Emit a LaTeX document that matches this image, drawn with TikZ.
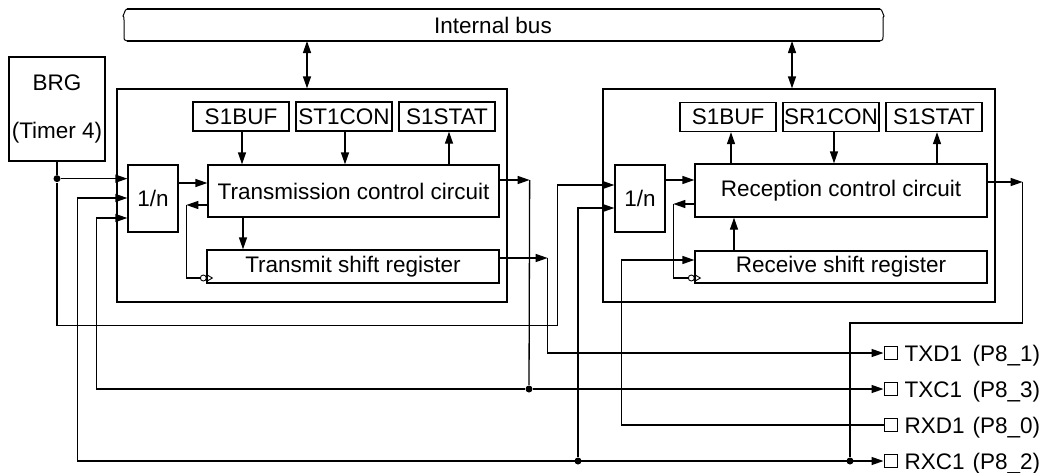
\documentclass[tikz,border=0pt]{standalone}
\usepackage{fontspec}
\setmainfont{Liberation Sans}
\usetikzlibrary{arrows.meta,calc}
\begin{document}
\begin{tikzpicture}[x=1pt,y=-1pt,
  line width=1.3pt,
  every node/.style={font=\fontsize{22.5}{26}\selectfont, text=black},
  box/.style={draw, line width=1.3pt, inner sep=0pt},
  arr/.style={-{Triangle[length=12pt,width=8pt]}},
  darr/.style={{Triangle[length=12pt,width=8pt]}-{Triangle[length=12pt,width=8pt]}},
  dot/.style={circle, fill=black, draw=none, inner sep=0pt, minimum size=7pt},
  pinsq/.style={draw, line width=1pt, minimum size=13pt, inner sep=0pt},
  lbl/.style={anchor=base west, inner sep=0pt},
]
\useasboundingbox (0,0) rectangle (1043,472);

% internal bus
\draw (127,9) -- (880,9);
\draw (127,41) -- (880,41);
\draw[line width=1pt] (127,9) .. controls (124,10) and (125,14) .. (123,16) .. controls (124,17) .. (124,20) -- (124,37) .. controls (124,40) .. (127,41);
\draw[line width=1pt] (880,9) .. controls (883,10) and (882,14) .. (884,16) .. controls (883,17) .. (883,20) -- (883,37) .. controls (883,40) .. (880,41);
\node (bus) at (493,25) {Internal bus};
\coordinate (busA) at (307,41);
\coordinate (busB) at (792,41);

% BRG
\node[box, minimum width=96pt, minimum height=104pt] (brg) at (57,109) {};
\node (brgA) at (57,83) {BRG};
\node (brgB) at (57,133) {(Timer 4)};

% transmit block
\node[box, minimum width=390pt, minimum height=213pt] (txbox) at (312,195.5) {};
\node[box, minimum width=50pt, minimum height=67pt] (tdiv) at (153,198.5) {1/n};
\node[box, minimum width=96pt, minimum height=29pt] (tbuf) at (241,116.5) {S1BUF};
\node[box, minimum width=96pt, minimum height=29pt] (tcon) at (344,116.5) {ST1CON};
\node[box, minimum width=96pt, minimum height=29pt] (tstat) at (447,116.5) {S1STAT};
\node[box, minimum width=291pt, minimum height=52pt] (tcc) at (353.5,191) {Transmission control circuit};
\node[box, minimum width=292pt, minimum height=33pt] (tsr) at (353,266.5) {Transmit shift register};

% receive block
\node[box, minimum width=392pt, minimum height=213pt] (rxbox) at (799,195.5) {};
\node[box, minimum width=50pt, minimum height=67pt] (rdiv) at (640,198.5) {1/n};
\node[box, minimum width=96pt, minimum height=29pt] (rbuf) at (728,117) {S1BUF};
\node[box, minimum width=96pt, minimum height=29pt] (rcon) at (831,117) {SR1CON};
\node[box, minimum width=96pt, minimum height=29pt] (rstat) at (934,117) {S1STAT};
\node[box, minimum width=292pt, minimum height=53pt] (rcc) at (841,190.5) {Reception control circuit};
\node[box, minimum width=292pt, minimum height=32pt] (rsr) at (841,267) {Receive shift register};

% pins
\node[pinsq] (ptxd) at (890.5,353) {};
\node[pinsq] (ptxc) at (890.5,389) {};
\node[pinsq] (prxd) at (890.5,425) {};
\node[pinsq] (prxc) at (890.5,461) {};
\node[lbl] (ltxd) at (904,361) {TXD1};
\node[lbl] (ltxc) at (904,397) {TXC1};
\node[lbl] (lrxd) at (904,433) {RXD1};
\node[lbl] (lrxc) at (904,469) {RXC1};
\node[lbl] (ntxd) at (972,361) {(P8\_1)};
\node[lbl] (ntxc) at (972,397) {(P8\_3)};
\node[lbl] (nrxd) at (972,433) {(P8\_0)};
\node[lbl] (nrxc) at (972,469) {(P8\_2)};

% dots
\node[dot] (dbrg) at ($(brg.south)+(0,17)$) {};
\node[dot] (dtxc) at (529,389) {};
\node[dot] (drxc1) at (578,461) {};
\node[dot] (drxc2) at (850,461) {};

% bus connections
\draw[darr] (busA) -- (busA |- txbox.north);
\draw[darr] (busB) -- (busB |- rxbox.north);

% transmit internal
\draw[arr] ([xshift=1pt]tbuf.south) -- ([xshift=1pt]tbuf.south |- tcc.north);
\draw[arr] ([xshift=1pt]tcon.south) -- ([xshift=1pt]tcon.south |- tcc.north);
\draw[arr] ([xshift=2pt]tstat.south |- tcc.north) -- ([xshift=2pt]tstat.south);
\draw[arr] ($(tdiv.east)+(0,-15.5)$) -- ($(tcc.west)+(0,-8)$);
\draw[arr] ($(tcc.west)+(0,14)$) -- ($(tcc.west)+(-21,14)$);
\coordinate (tck) at ($(tsr.west)+(0,11.5)$);
\draw ($(tcc.west)+(-21,14)$) |- ($(tck)+(-6,0)$);
\draw[line width=0.9pt] ($(tck)+(-3,0)$) circle (3);
\draw[line width=0.9pt] ($(tck)+(0,-3.5)$) -- ($(tck)+(6,0)$) -- ($(tck)+(0,3.5)$);
\draw[arr] ($(tcc.south)+(-110.5,0)$) -- ($(tsr.north)+(-110,0)$);

% transmit outputs
\coordinate (tco) at ($(tcc.east)+(30,-11)$);
\draw[arr] ($(tcc.east)+(0,-11)$) -- (tco);
\draw (tco) -- (dtxc);
\coordinate (tso) at ($(tsr.east)+(48,-8.5)$);
\draw[arr] ($(tsr.east)+(0,-8.5)$) -- (tso);
\draw[arr] (tso) |- (ptxd.west);
\draw[arr] (dtxc) -- (ptxc.west);
\draw[arr] (dtxc) -| ($(tdiv.west)+(-31,19.5)$) -- ($(tdiv.west)+(0,19.5)$);

% BRG clock
\draw (brg.south) -- (dbrg);
\draw[arr] (dbrg) -- (dbrg -| tdiv.west);
\draw[arr] (dbrg) -- ++(0,147) -| ($(rdiv.west)+(-57,-13.5)$) -- ($(rdiv.west)+(0,-13.5)$);

% RXC1 line
\draw[arr] ($(tdiv.west)+(-50,-0.5)$) |- (prxc.west);
\draw[arr] ($(tdiv.west)+(-50,-0.5)$) -- ($(tdiv.west)+(0,-0.5)$);
\draw[arr] (drxc1) |- ($(rdiv.west)+(0,9.5)$);

% receive internal
\draw[arr] ($(rdiv.east)+(0,-18.5)$) -- ($(rcc.west)+(0,-10.5)$);
\draw[arr] ($(rcc.west)+(0,13.5)$) -- ($(rcc.west)+(-21,13.5)$);
\coordinate (rck) at ($(rsr.west)+(0,11)$);
\draw ($(rcc.west)+(-21,13.5)$) |- ($(rck)+(-6,0)$);
\draw[line width=0.9pt] ($(rck)+(-3,0)$) circle (3);
\draw[line width=0.9pt] ($(rck)+(0,-3.5)$) -- ($(rck)+(6,0)$) -- ($(rck)+(0,3.5)$);
\draw[arr] ($(rsr.north)+(-107,0)$) -- ($(rcc.south)+(-107,0)$);
\draw[arr] ([xshift=3pt]rbuf.south |- rcc.north) -- ([xshift=3pt]rbuf.south);
\draw[arr] ([xshift=3pt]rcon.south) -- ([xshift=3pt]rcon.south |- rcc.north);
\draw[arr] ([xshift=3pt]rstat.south |- rcc.north) -- ([xshift=3pt]rstat.south);

% receive outputs / inputs
\coordinate (rco) at ($(rcc.east)+(35,-8.5)$);
\draw[arr] ($(rcc.east)+(0,-8.5)$) -- (rco);
\draw (rco) -- ++(0,141) -| (drxc2);
\draw (prxd.west) -| ($(rsr.west)+(-73,-7)$);
\draw[arr] ($(rsr.west)+(-73,-7)$) -- ($(rsr.west)+(0,-7)$);
\end{tikzpicture}
\end{document}
